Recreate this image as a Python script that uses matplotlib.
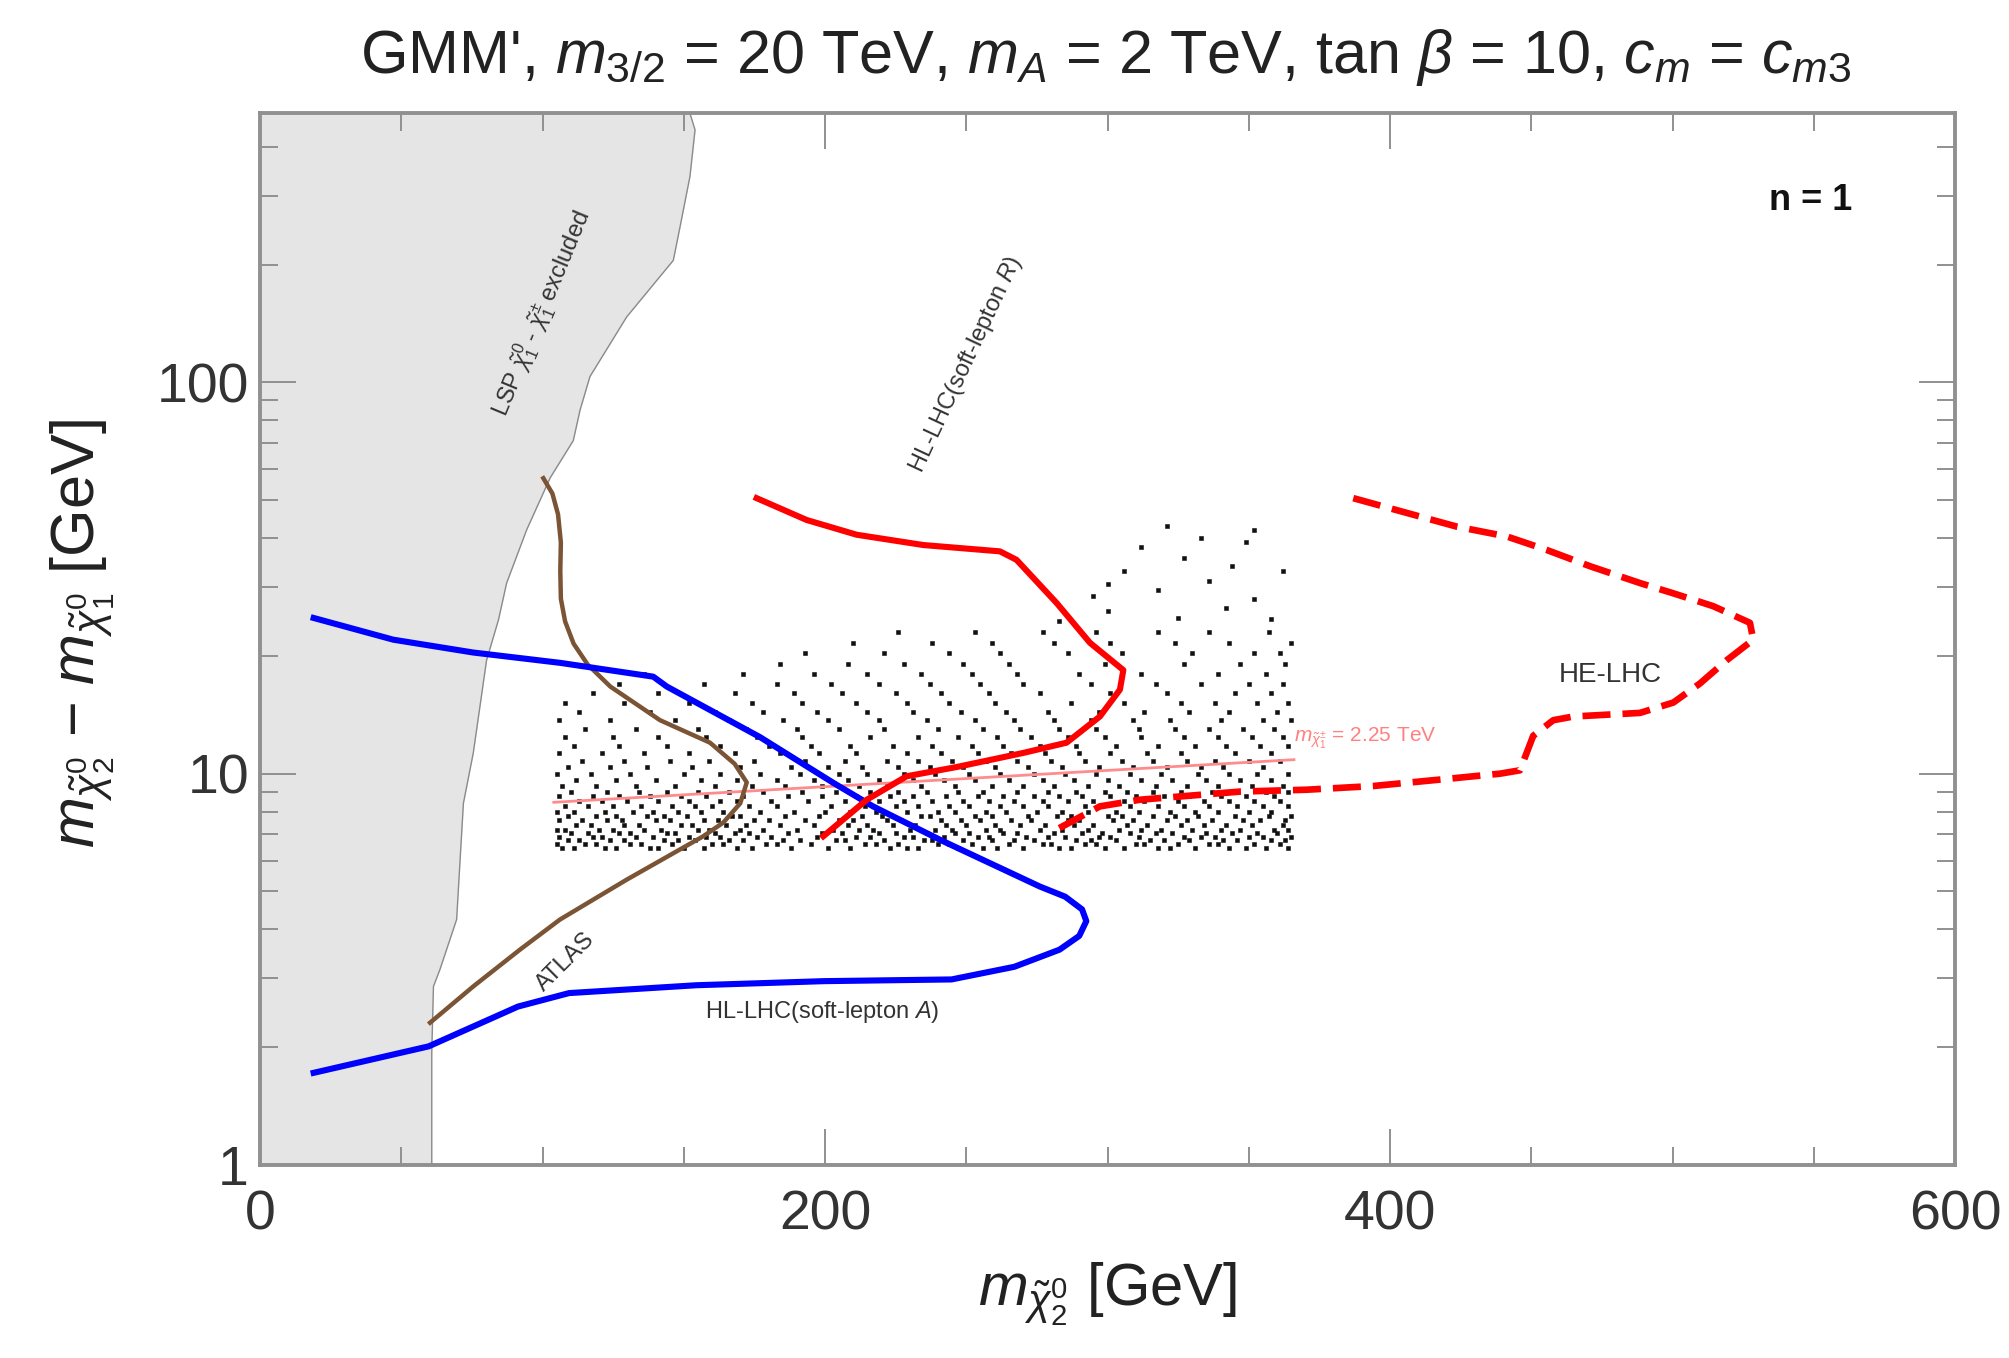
import matplotlib
matplotlib.use("Agg")
import matplotlib.pyplot as plt
import numpy as np

plt.rcParams['font.family'] = ['Liberation Sans', 'DejaVu Sans']
plt.rcParams['mathtext.fontset'] = 'custom'
plt.rcParams['mathtext.rm'] = 'Liberation Sans'
plt.rcParams['mathtext.it'] = 'Liberation Sans:italic'
plt.rcParams['mathtext.bf'] = 'Liberation Sans:bold'

NARROW = ['Liberation Sans Narrow', 'Liberation Sans', 'DejaVu Sans']

# ---------------- data ----------------
# LSP-excluded region boundary
lsp_x = [152, 152.2, 154, 152.2, 148.7, 146.3, 129.8, 116.8, 113.3, 110.9, 102.7, 94.4, 87.3, 84.4,
         80.2, 75.5, 72.0, 69.6, 63.7, 61.4, 60.8, 60.8]
lsp_y = [500, 487, 442, 336, 250, 205, 147, 103.5, 85, 71, 57, 42, 30.7, 24.7,
         19.5, 11.3, 8.4, 4.24, 3.16, 2.86, 1.94, 1.0]

# ATLAS (brown)
atlas_x = [100.3, 103.5, 105.5, 106.5, 106.3, 106.5, 108, 111, 116, 124, 141.6, 159.3, 168, 172.3,
           170, 164, 156.9, 129.8, 106.2, 92, 75.5, 60.2]
atlas_y = [56.9, 52, 46, 39, 33, 28, 24.5, 21.5, 19, 16.7, 13.7, 12.0, 10.6, 9.5,
           8.4, 7.5, 6.92, 5.36, 4.24, 3.55, 2.86, 2.31]

# HL-LHC soft-lepton (blue)
blue_x = [19, 47.2, 75.5, 106.2, 139.2, 144, 177, 203, 217, 240.7, 276, 285, 291, 292.5,
          290, 283, 267, 244.8, 199.6, 154.5, 109.4, 91.3, 59.7, 19]
blue_y = [25, 22, 20.4, 19.2, 17.7, 16.7, 12.4, 9.47, 8.25, 6.78, 5.15, 4.85, 4.5, 4.2,
          3.85, 3.55, 3.21, 2.98, 2.95, 2.88, 2.75, 2.54, 2.01, 1.72]

# HL-LHC soft-lepton R (red solid)
red_x = [175.8, 193.5, 211.2, 234.8, 261.9, 267.8, 282, 293.8, 305.6, 304.4, 297.3, 285.5,
         270.2, 246.6, 228.9, 214.8, 199.4]
red_y = [50.6, 44.5, 40.8, 38.4, 37, 35.2, 27.3, 21.6, 18.4, 16.4, 14.0, 12.0,
         11.3, 10.4, 9.85, 8.58, 6.92]

# HE-LHC (red dashed)
he_x = [387, 405.9, 423.6, 441.3, 455.5, 470.8, 488.5, 500.3, 514.4, 527.4, 528.6, 519.2, 509.7,
        500.3, 488.5, 464.9, 457.8, 450.7, 446, 438.9, 417.7, 394.1, 370.5, 346.9, 311.5, 297.3, 282]
he_y = [50.6, 46.4, 42.8, 40.4, 37.3, 33.9, 30.7, 28.9, 26.8, 24.3, 22, 19.5, 17.0,
        15.2, 14.3, 14.0, 13.7, 12.5, 10.2, 10.0, 9.66, 9.3, 9.1, 9.0, 8.58, 8.25, 7.2]

# chargino mass = 2.25 TeV contour (pink)
chargino_x = [104, 366]
chargino_y = [8.45, 10.86]

# scan points, row by row (y level, x positions)
scan_rows = [
    (6.45, [107, 111, 122, 126, 138, 141, 150, 157, 169, 174, 188, 201, 209, 223, 229, 233, 247, 256, 261, 270, 283, 287, 299, 306, 318, 322, 331, 343, 349, 356, 364]),
    (6.6, [105, 115, 119, 131, 135, 146, 160, 164, 179, 183, 195, 214, 218, 226, 240, 244, 252, 265, 277, 280, 292, 296, 310, 313, 325, 336, 339, 352, 361]),
    (6.75, [109, 113, 124, 129, 143, 148, 154, 166, 171, 185, 191, 204, 207, 221, 235, 238, 249, 259, 267, 274, 289, 294, 303, 315, 320, 329, 341, 346, 358, 363]),
    (6.9, [106, 118, 121, 133, 139, 152, 158, 163, 176, 181, 197, 211, 216, 228, 231, 242, 254, 258, 271, 279, 285, 297, 301, 311, 327, 333, 338, 350, 355, 365]),
    (7.05, [110, 116, 127, 131, 144, 147, 161, 168, 173, 187, 199, 206, 219, 225, 236, 246, 251, 263, 268, 281, 291, 298, 308, 317, 323, 335, 344, 353, 360]),
    (7.2, [105, 108, 120, 125, 136, 142, 155, 159, 170, 178, 190, 203, 212, 217, 230, 239, 245, 257, 262, 276, 284, 293, 304, 312, 319, 330, 340, 347, 359, 364]),
    (7.4, [112, 117, 129, 134, 149, 153, 165, 172, 184, 196, 208, 215, 224, 232, 243, 250, 260, 269, 278, 288, 295, 307, 314, 326, 334, 342, 351, 362]),
    (7.6, [106, 114, 123, 128, 140, 145, 157, 162, 175, 180, 193, 205, 210, 222, 227, 241, 248, 255, 266, 273, 286, 290, 302, 309, 321, 328, 337, 348, 354, 363]),
    (7.8, [109, 119, 126, 137, 143, 151, 167, 170, 186, 198, 213, 220, 234, 237, 253, 259, 272, 282, 287, 300, 305, 316, 324, 332, 345, 357, 365]),
    (8.0, [105, 111, 122, 132, 139, 148, 156, 164, 177, 189, 200, 209, 218, 229, 240, 246, 257, 264, 275, 284, 293, 303, 311, 322, 331, 339, 350, 358]),
    (8.25, [108, 116, 125, 135, 146, 154, 160, 173, 183, 202, 214, 225, 233, 244, 251, 262, 270, 279, 292, 297, 308, 318, 327, 336, 346, 355, 364]),
    (8.5, [113, 121, 130, 141, 152, 163, 169, 181, 194, 207, 219, 228, 238, 249, 258, 267, 277, 286, 295, 306, 313, 325, 334, 343, 352, 361]),
    (8.75, [106, 118, 127, 138, 149, 158, 171, 187, 199, 211, 223, 231, 243, 254, 263, 274, 283, 291, 301, 310, 320, 329, 340, 349, 359]),
    (9.0, [110, 123, 134, 144, 155, 166, 178, 192, 204, 216, 226, 236, 247, 256, 268, 279, 289, 299, 307, 316, 326, 337, 345, 356, 364]),
    (9.3, [107, 119, 133, 147, 161, 174, 186, 199, 212, 222, 234, 246, 259, 270, 281, 293, 304, 317, 328, 339, 351, 362]),
    (9.65, [112, 126, 140, 156, 169, 183, 196, 208, 219, 231, 242, 253, 265, 277, 288, 300, 312, 323, 335, 347, 358]),
    (10.0, [105, 117, 131, 150, 163, 177, 191, 205, 215, 228, 239, 251, 262, 274, 285, 296, 308, 319, 332, 343, 353, 364]),
    (10.4, [109, 124, 137, 153, 170, 188, 201, 213, 226, 237, 249, 260, 272, 284, 297, 309, 321, 333, 341, 355]),
    (10.8, [114, 129, 145, 159, 175, 193, 207, 222, 233, 245, 257, 268, 280, 292, 305, 316, 328, 338, 350, 361]),
    (11.3, [106, 121, 136, 152, 168, 184, 198, 211, 229, 241, 254, 266, 278, 290, 301, 314, 326, 345, 358]),
    (11.8, [111, 127, 144, 163, 180, 195, 209, 224, 238, 252, 263, 276, 289, 303, 318, 331, 342, 354, 364]),
    (12.4, [108, 125, 141, 158, 176, 192, 216, 233, 247, 261, 273, 286, 299, 312, 327, 339, 351, 362]),
    (13.0, [115, 133, 155, 172, 190, 205, 221, 240, 256, 269, 283, 296, 311, 324, 336, 348, 359]),
    (13.7, [106, 124, 147, 166, 185, 201, 219, 236, 253, 267, 281, 294, 309, 322, 340, 355, 365]),
    (14.4, [113, 138, 161, 178, 197, 215, 231, 248, 264, 279, 297, 313, 329, 343, 360]),
    (15.2, [108, 129, 152, 174, 192, 211, 229, 244, 260, 287, 306, 326, 338, 353, 364]),
    (16.1, [118, 141, 168, 189, 206, 225, 241, 258, 276, 301, 321, 345, 358]),
    (17.0, [127, 157, 183, 202, 219, 237, 255, 270, 294, 317, 333, 350, 362]),
    (18.0, [136, 171, 196, 215, 234, 252, 268, 290, 312, 339, 356]),
    (19.1, [184, 208, 228, 249, 265, 299, 327, 347, 363]),
    (20.3, [193, 221, 244, 262, 286, 305, 330, 352, 361]),
    (21.6, [210, 238, 259, 281, 301, 324, 343, 365]),
    (23.0, [226, 253, 277, 296, 318, 336, 357]),
]
sparse_x = [283, 300, 325, 342, 358, 295, 318, 336, 352, 306, 327, 344, 312, 333, 349, 321, 352, 300, 362]
sparse_y = [24.5, 26, 25, 26.5, 24.8, 28.5, 29.5, 31, 28, 33, 35.5, 34, 38, 40, 39, 43, 42, 30.5, 33]

x_ticks = [0, 200, 400, 600]
y_ticks = [1, 10, 100]
y_tick_labels = ['1', '10', '100']

# ---------------- figure ----------------
fig = plt.figure(figsize=(2009 / 200, 1358 / 200), dpi=200)
ax = fig.add_axes([260 / 2009, 1 - 1165 / 1358, (1955 - 260) / 2009, (1165 - 113) / 1358])
ax.set_yscale('log')
ax.set_xlim(0, 600)
ax.set_ylim(1, 488)

# LSP excluded region
ax.fill_betweenx(lsp_y, 0, lsp_x, color='#e5e5e5', lw=0, zorder=0)
ax.plot(lsp_x, lsp_y, color='#8a8a8a', lw=0.5, zorder=1)

# scan points
sx, sy = [], []
for yv, xs in scan_rows:
    sx.extend(xs)
    sy.extend([yv] * len(xs))
sx.extend(sparse_x)
sy.extend(sparse_y)
ax.plot(sx, sy, ls='none', marker='s', ms=1.1, mfc='#111111', mec='#111111', mew=0.2, zorder=2)

# curves
ax.plot(chargino_x, chargino_y, color='#ff8c8c', lw=1.0, zorder=3)
ax.plot(atlas_x, atlas_y, color='#7a5434', lw=1.6, zorder=4, solid_joinstyle='round')
ax.plot(blue_x, blue_y, color='#0000ff', lw=2.2, zorder=5, solid_joinstyle='round')
ax.plot(red_x, red_y, color='#ff0000', lw=2.2, zorder=5, solid_joinstyle='round')
ax.plot(he_x, he_y, color='#ff0000', lw=2.4, ls=(0, (4.2, 1.8)), zorder=5)

# labels in plot
ax.text(99.5, 150, r'LSP $\tilde{\chi}^0_1$ - $\tilde{\chi}^{\pm}_1$ excluded', rotation=67.5,
        rotation_mode='anchor', ha='center', va='center', fontsize=8.5, color='#333333', family=NARROW)
ax.text(250, 111, r'HL-LHC(soft-lepton $R$)', rotation=65, rotation_mode='anchor',
        ha='center', va='center', fontsize=8.5, color='#333333', family=NARROW)
ax.text(199, 2.46, r'HL-LHC(soft-lepton $A$)', ha='center', va='center', fontsize=8.5,
        color='#333333', family=NARROW)
ax.text(108, 3.3, 'ATLAS', rotation=45, rotation_mode='anchor', ha='center', va='center',
        fontsize=8.5, color='#333333', family=NARROW)
ax.text(478, 17.9, 'HE-LHC', ha='center', va='center', fontsize=10, color='#333333', family=NARROW)
ax.text(366, 12.3, r'$m_{\tilde{\chi}^{\pm}_1}$ = 2.25 TeV', ha='left', va='center', fontsize=7.5,
        color='#ff8080', family=NARROW)
ax.text(549, 292, 'n = 1', ha='center', va='center', fontsize=13, fontweight='bold',
        color='#111111', family=['Liberation Sans', 'DejaVu Sans'])

# axes styling
for sp in ax.spines.values():
    sp.set_color('#909090')
    sp.set_linewidth(1.4)
ax.set_xticks(x_ticks)
ax.set_xticklabels([str(v) for v in x_ticks])
ax.set_xticks(np.arange(0, 601, 50), minor=True)
ax.set_yticks(y_ticks)
ax.set_yticklabels(y_tick_labels)
ax.set_yticks([m * 10 ** k for k in range(0, 3) for m in range(2, 10) if m * 10 ** k < 488], minor=True)
ax.yaxis.set_minor_formatter(matplotlib.ticker.NullFormatter())
ax.tick_params(which='both', direction='in', top=True, right=True, color='#909090', width=0.7,
               labelsize=20, labelcolor='#333333')
ax.tick_params(which='major', length=13)
ax.tick_params(which='minor', length=6.5)
ax.tick_params(axis='x', which='major', pad=9)
ax.tick_params(axis='y', which='major', pad=4)

fig.text(0.5505, 1 - 58 / 1358, r"GMM', $m_{3/2}$ = 20 TeV, $m_A$ = 2 TeV, tan $\beta$ = 10, $c_m$ = $c_{m3}$",
         ha='center', va='center', fontsize=22, color='#222222')
fig.text(0.5515, 1 - 1294 / 1358, r'$m_{\tilde{\chi}^0_2}$ [GeV]', ha='center', va='center',
         fontsize=21.5, color='#222222')
fig.text(83 / 2009, 1 - 634 / 1358, r'$m_{\tilde{\chi}^0_2}$ $-$ $m_{\tilde{\chi}^0_1}$ [GeV]', ha='center', va='center',
         rotation=90, fontsize=22, color='#222222')

fig.savefig('out.png', dpi=200)
